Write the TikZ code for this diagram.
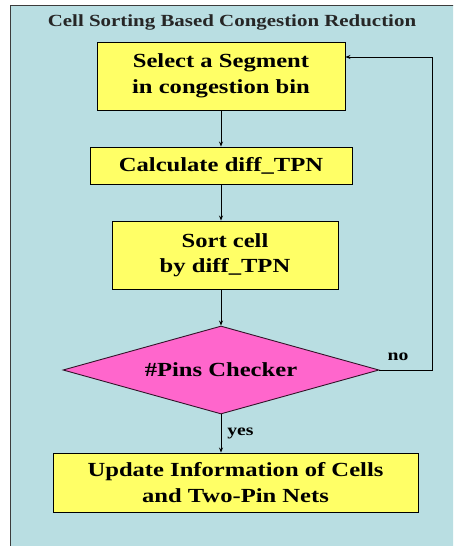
\documentclass[tikz,border=0pt]{standalone}
\usepackage{fontspec}
\setmainfont{Liberation Serif}
\usetikzlibrary{shapes.geometric,arrows.meta}
\definecolor{bgblue}{RGB}{185,222,226}
\definecolor{boxyellow}{RGB}{255,255,102}
\definecolor{diapink}{RGB}{255,102,204}
\definecolor{framegray}{RGB}{60,60,60}
\newcommand{\hx}[1]{\scalebox{1.23}[1]{#1}}
\tikzset{
  stepbox/.style={draw=black, line width=0.9pt, fill=boxyellow, align=center, inner sep=0pt,
    font=\fontsize{20}{25.5}\selectfont\bfseries},
  checkbox/.style={draw=black!80!diapink, line width=0.9pt, fill=diapink, shape=diamond, aspect=3.6, inner sep=0pt,
    minimum width=316pt, minimum height=88pt, font=\fontsize{20}{25}\selectfont\bfseries},
  flow/.style={draw=black, line width=0.8pt, -{Stealth[length=5pt,width=4pt]}},
  lbl/.style={font=\fontsize{16}{18}\selectfont\bfseries, inner sep=0pt}
}
\begin{document}
\begin{tikzpicture}[x=1pt,y=-1pt]
\useasboundingbox (0,0) rectangle (453,546);
\fill[white] (0,0) rectangle (453,546);
\begin{scope}
\clip (0,0) rectangle (453,546);
\draw[framegray, fill=bgblue, line width=1pt] (10,5) rectangle (470,570);
\end{scope}
\node[font=\fontsize{17}{20}\selectfont\bfseries, text=black!85] (title) at (232,22) {\hx{Cell Sorting Based Congestion Reduction}};
\node[stepbox, minimum width=248pt, minimum height=68pt] (b1) at (221,76) {\hx{Select a Segment}\\\hx{in congestion bin}};
\node[stepbox, minimum width=262pt, minimum height=37pt] (b2) at (221,165.5) {\hx{Calculate diff\_TPN}};
\node[stepbox, minimum width=226pt, minimum height=68pt] (b3) at (225,255) {\hx{Sort cell}\\\hx{by diff\_TPN}};
\node[checkbox] (d) at (221,370) {\hx{\#Pins Checker}};
\node[stepbox, minimum width=365pt, minimum height=59pt] (b4) at (235.5,482.5) {\hx{Update Information of Cells}\\\hx{and Two-Pin Nets}};
\coordinate (loop) at (432,57);
\draw[flow] (b1.south) -- (b2.north);
\draw[flow] (b2.south) -- (b2.south |- b3.north);
\draw[flow] (d.north |- b3.south) -- (d.north);
\draw[flow] (d.south) -- (d.south |- b4.north) node[lbl, midway, right=6pt] (yes) {\hx{yes}};
\draw[flow] (d.east) -| (loop) -- (b1.east |- loop);
\node[lbl] (no) at (398,357) {\hx{no}};
\end{tikzpicture}
\end{document}
